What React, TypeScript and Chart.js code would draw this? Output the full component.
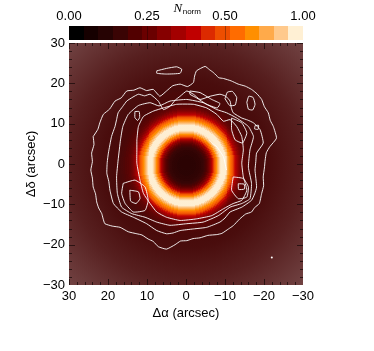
import React, { useEffect, useRef } from 'react';
import { Chart, registerables } from 'chart.js';
Chart.register(...registerables);

// ---- colour bar ----
const cbColors = ['#000000', '#160000', '#260303', '#3a0404', '#520000', '#6a0000', '#860000', '#a30000', '#c00000', '#dc2a00', '#ee4e00', '#ff6c00', '#ff8f00', '#ffaa4a', '#ffc98c', '#fff0d4'];
const cbTickLabels = ['0.00', '0.25', '0.50', '1.00'];
const cbTickValues = [0, 0.25, 0.5, 1.0];
const cbTickFrac = [0, 1 / 3, 2 / 3, 1];

// ---- axes ----
const axisTicks = [-30, -20, -10, 0, 10, 20, 30];

// ---- radial profile of the model image (N_norm vs radius in arcsec) ----
const profileR = [0, 1, 2, 3, 3.5, 4, 4.25, 4.5, 4.75, 5, 5.25, 5.5, 5.75, 6, 6.25, 6.5, 6.75, 7, 7.25, 7.5, 7.75, 8, 8.25, 8.5, 8.75, 9, 9.25, 9.5, 9.75, 10, 10.25, 10.5, 10.75, 11, 11.25, 11.5, 11.75, 12, 12.25, 12.5, 12.75, 13, 13.25, 13.5, 13.75, 14, 14.25, 14.5, 14.75, 15, 15.5, 16, 16.5, 17, 20, 25, 30, 43];
const profileV = [0.13, 0.13, 0.13, 0.135, 0.14, 0.15, 0.155, 0.165, 0.18, 0.195, 0.215, 0.24, 0.27, 0.30, 0.335, 0.375, 0.42, 0.465, 0.53, 0.595, 0.68, 0.76, 0.83, 0.895, 0.94, 0.97, 0.99, 1.0, 0.985, 0.95, 0.9, 0.84, 0.78, 0.72, 0.66, 0.6, 0.55, 0.5, 0.46, 0.42, 0.39, 0.36, 0.335, 0.31, 0.29, 0.27, 0.255, 0.24, 0.23, 0.22, 0.21, 0.2, 0.192, 0.185, 0.18, 0.18, 0.18, 0.18];

// ---- contours (x, y in arcsec) ----
const contourOuter: [number, number][] = [[23.8, 6.8], [22.6, 8.6], [22.1, 10.2], [21.2, 12.3], [19.6, 13.6], [18.2, 15.6], [16.6, 16.4], [15.2, 18.1], [13.4, 18.3], [11.8, 18.9], [10.1, 18.2], [8.4, 18.5], [6.7, 16.8], [5.0, 18.1], [3.4, 19.4], [1.5, 19.8], [-0.4, 19.2], [-1.9, 20.2], [-2.2, 21.8], [-2.7, 23.1], [-4.9, 24.2], [-6.0, 23.4], [-7.0, 22.7], [-8.4, 21.4], [-9.6, 21.2], [-11.6, 20.6], [-13.4, 19.8], [-15.2, 19.3], [-16.8, 18.5], [-18.2, 17.4], [-19.4, 16.0], [-20.1, 14.2], [-21.1, 12.7], [-21.6, 10.8], [-22.4, 9.3], [-23.2, 6.4], [-21.5, 4.3], [-20.6, 2.8], [-20.3, 1.0], [-20.1, -1.0], [-19.8, -3.2], [-19.9, -5.4], [-19.4, -7.3], [-18.8, -9.8], [-17.6, -10.8], [-16.8, -11.9], [-15.3, -12.4], [-13.8, -13.6], [-12.1, -15.3], [-10.9, -16.1], [-9.2, -17.2], [-7.9, -17.5], [-5.6, -17.7], [-3.6, -18.3], [-1.8, -18.5], [-0.2, -19.0], [1.4, -19.1], [2.8, -20.0], [5.0, -21.1], [7.1, -20.5], [8.4, -19.2], [9.7, -18.6], [11.3, -17.6], [12.6, -17.3], [14.8, -16.8], [16.9, -15.7], [18.9, -15.4], [20.8, -14.8], [21.3, -13.4], [21.6, -12.3], [22.4, -10.9], [22.9, -9.4], [23.2, -7.4], [23.8, -5.7], [24.0, -3.5], [24.4, -1.5], [24.0, 0.6], [24.2, 2.7], [23.6, 4.8], [23.8, 6.8]];
const contourSecond: [number, number][] = [[18.2, 9.3], [17.8, 11.0], [17.4, 12.7], [16.2, 14.3], [15.2, 15.6], [13.6, 16.6], [12.2, 17.3], [10.6, 16.9], [9.2, 17.3], [7.1, 15.6], [5.8, 13.5], [4.1, 14.3], [2.7, 15.9], [1.5, 16.8], [-0.2, 18.1], [-1.9, 17.3], [-3.6, 16.0], [-6.2, 16.8], [-8.7, 17.3], [-10.2, 16.8], [-11.3, 15.6], [-11.6, 14.0], [-12.1, 12.7], [-14.3, 11.4], [-15.8, 10.9], [-17.3, 10.2], [-19.0, 8.5], [-19.8, 5.2], [-18.1, 2.7], [-17.9, 0.6], [-17.7, -1.5], [-18.1, -5.7], [-17.6, -7.4], [-16.8, -9.0], [-14.3, -10.7], [-11.3, -11.9], [-10.0, -13.4], [-8.7, -14.4], [-5.3, -15.7], [-1.9, -16.1], [1.5, -16.5], [3.3, -17.1], [5.0, -17.3], [7.5, -16.5], [10.1, -14.8], [13.5, -13.2], [16.5, -11.9], [18.6, -9.8], [19.5, -6.5], [19.8, -4.3], [20.3, -2.3], [20.2, 0.4], [19.9, 2.7], [19.1, 6.8], [18.2, 9.3]];
const contourThird: [number, number][] = [[16.8, 6.0], [16.2, 9.3], [14.8, 12.3], [12.2, 14.5], [9.2, 15.2], [6.9, 14.4], [4.1, 15.6], [-0.2, 16.0], [-4.4, 15.2], [-7.9, 13.5], [-10.4, 12.7], [-13.0, 11.4], [-16.0, 9.3], [-17.3, 6.8], [-16.4, 3.5], [-16.0, -0.8], [-16.8, -4.8], [-16.4, -8.6], [-14.3, -9.8], [-11.3, -10.7], [-8.3, -12.8], [-4.4, -14.4], [-0.2, -14.8], [4.1, -15.2], [7.5, -14.4], [10.5, -13.2], [13.9, -12.3], [16.5, -10.7], [17.6, -7.3], [17.8, -3.2], [17.4, 1.0], [16.8, 6.0]];
const contourInner: [number, number][] = [[12.6, 6.0], [12.2, 9.3], [10.9, 11.8], [8.4, 13.1], [5.8, 13.9], [2.4, 14.8], [-1.9, 14.8], [-5.3, 13.9], [-7.9, 12.3], [-9.6, 10.6], [-11.3, 11.0], [-13.0, 9.3], [-14.3, 6.8], [-14.7, 3.5], [-14.3, 0.2], [-14.7, -3.2], [-15.6, -6.5], [-14.3, -9.0], [-12.1, -9.8], [-9.6, -11.1], [-6.6, -12.8], [-2.7, -13.6], [1.5, -14.0], [5.0, -13.2], [7.5, -11.9], [9.2, -9.8], [10.9, -7.3], [11.8, -4.0], [12.6, 0.2], [12.6, 3.5], [12.6, 6.0]];
const contourNotch: [number, number][] = [[-5.8, 6.0], [-6.6, 5.2], [-7.9, 4.3], [-9.6, 1.8], [-10.0, 0.2], [-10.4, -1.5]];
const loopTop: [number, number][] = [[7.5, 23.1], [5.0, 23.7], [2.4, 24.1], [1.1, 23.5], [1.5, 22.5], [5.0, 22.3], [7.5, 22.5], [7.5, 23.1]];
const loopTopMid: [number, number][] = [[-1.0, 18.1], [-3.6, 17.7], [-6.6, 16.0], [-8.7, 15.0], [-8.0, 13.9], [-5.3, 14.8], [-2.7, 16.4], [-1.0, 17.3], [-1.0, 18.1]];
const loopTopRight: [number, number][] = [[-10.0, 16.2], [-10.6, 17.8], [-11.9, 18.0], [-13.0, 16.5], [-12.6, 14.6], [-11.2, 14.5], [-10.0, 16.2]];
const loopFarRight: [number, number][] = [[-15.6, 15.3], [-16.1, 16.8], [-17.2, 16.5], [-17.7, 14.8], [-17.1, 13.4], [-16.0, 13.6], [-15.6, 15.3]];
const loopLeftSmall: [number, number][] = [[13.1, 13.0], [12.0, 13.0], [11.9, 11.5], [12.4, 10.8], [13.1, 11.5], [13.1, 13.0]];
const loopLeftLow: [number, number][] = [[16.1, -4.8], [13.1, -4.0], [10.5, -5.7], [9.7, -9.0], [10.5, -11.5], [13.5, -11.9], [15.6, -9.8], [16.5, -7.3], [16.1, -4.8]];
const loopLeftLowIn: [number, number][] = [[14.4, -6.5], [12.2, -6.9], [11.8, -8.6], [12.8, -9.8], [14.2, -9.2], [14.4, -6.5]];
const loopRightUp: [number, number][] = [[-11.7, 11.4], [-14.3, 10.2], [-15.6, 7.7], [-14.5, 5.2], [-12.6, 6.0], [-11.7, 8.5], [-11.7, 11.4]];
const loopRightLow: [number, number][] = [[-12.1, -3.2], [-14.7, -3.6], [-16.0, -5.7], [-15.6, -8.2], [-13.4, -8.6], [-11.7, -6.5], [-12.1, -3.2]];
const loopRightLowIn: [number, number][] = [[-13.4, -4.9], [-14.9, -5.0], [-15.0, -6.2], [-13.5, -6.3], [-13.4, -4.9]];
const loopTiny: [number, number][] = [[-17.7, 9.5], [-18.6, 9.6], [-18.5, 8.6], [-17.6, 8.7], [-17.7, 9.5]];
const contours = [contourOuter, contourSecond, contourThird, contourInner, contourNotch, loopTop, loopTopMid, loopTopRight, loopFarRight, loopLeftSmall, loopLeftLow, loopLeftLowIn, loopRightUp, loopRightLow, loopRightLowIn, loopTiny];
const markerPoint: [number, number][] = [[-22.0, -23.2]];

const FONT = "'Liberation Sans', Arial, Helvetica, sans-serif";

function hexToRgb(h: string) {
  return [parseInt(h.slice(1, 3), 16), parseInt(h.slice(3, 5), 16), parseInt(h.slice(5, 7), 16)];
}
const cbRgb = cbColors.map(hexToRgb);

function valueToFrac(v: number) {
  for (let i = 1; i < cbTickValues.length; i++) {
    if (v <= cbTickValues[i]) {
      const t = (v - cbTickValues[i - 1]) / (cbTickValues[i] - cbTickValues[i - 1]);
      return cbTickFrac[i - 1] + t * (cbTickFrac[i] - cbTickFrac[i - 1]);
    }
  }
  return 1;
}
function colorFor(v: number) {
  const f = Math.max(0, Math.min(1, valueToFrac(v)));
  let p = f * cbRgb.length - 0.5;
  p = Math.max(0, Math.min(cbRgb.length - 1, p));
  const i = Math.floor(p);
  const j = Math.min(cbRgb.length - 1, i + 1);
  const t = p - i;
  const c = cbRgb[i].map((a, k) => Math.round(a + (cbRgb[j][k] - a) * t));
  return `rgb(${c[0]},${c[1]},${c[2]})`;
}
function profileAt(r: number) {
  let best = 0;
  let bd = Infinity;
  for (let i = 0; i < profileR.length; i++) {
    const d = Math.abs(profileR[i] - r);
    if (d < bd) { bd = d; best = i; }
  }
  return profileV[best];
}

const CELL = 0.25;

const heatPlugin = {
  id: 'heat',
  beforeDatasetsDraw(chart: any) {
    const { ctx, chartArea: a, scales } = chart;
    const xs = scales.x, ys = scales.y;
    ctx.save();
    ctx.beginPath();
    ctx.rect(a.left, a.top, a.right - a.left, a.bottom - a.top);
    ctx.clip();
    const n = Math.round(60 / CELL);
    for (let i = 0; i < n; i++) {
      const cx = -30 + (i + 0.5) * CELL;
      const px0 = xs.getPixelForValue(cx - CELL / 2), px1 = xs.getPixelForValue(cx + CELL / 2);
      const left = Math.floor(Math.min(px0, px1));
      const w = Math.ceil(Math.abs(px1 - px0)) + 1;
      for (let j = 0; j < n; j++) {
        const cy = -30 + (j + 0.5) * CELL;
        const py0 = ys.getPixelForValue(cy - CELL / 2), py1 = ys.getPixelForValue(cy + CELL / 2);
        const top = Math.floor(Math.min(py0, py1));
        const h = Math.ceil(Math.abs(py1 - py0)) + 1;
        ctx.fillStyle = colorFor(profileAt(Math.hypot(cx, cy)));
        ctx.fillRect(left, top, w, h);
      }
    }
    // haze toward the corners
    const ox = xs.getPixelForValue(0), oy = ys.getPixelForValue(0);
    const R = Math.hypot(a.right - ox, a.bottom - oy);
    const g = ctx.createRadialGradient(ox, oy, 0, ox, oy, R);
    g.addColorStop(0, 'rgba(160,130,130,0)');
    g.addColorStop(0.3, 'rgba(160,130,130,0.02)');
    g.addColorStop(0.5, 'rgba(160,130,130,0.08)');
    g.addColorStop(0.7, 'rgba(160,130,130,0.22)');
    g.addColorStop(1, 'rgba(160,130,130,0.5)');
    ctx.fillStyle = g;
    ctx.fillRect(a.left, a.top, a.right - a.left, a.bottom - a.top);
    // inward ticks
    ctx.strokeStyle = 'rgba(25,10,10,0.75)';
    ctx.lineWidth = 1;
    ctx.beginPath();
    for (let v = -30; v <= 30; v += 2) {
      const major = v % 10 === 0;
      const len = major ? 6 : 3;
      const px = Math.round(xs.getPixelForValue(v)) + 0.5;
      ctx.moveTo(px, a.bottom); ctx.lineTo(px, a.bottom - len);
      ctx.moveTo(px, a.top); ctx.lineTo(px, a.top + len);
      const py = Math.round(ys.getPixelForValue(v)) + 0.5;
      ctx.moveTo(a.left, py); ctx.lineTo(a.left + len, py);
      ctx.moveTo(a.right, py); ctx.lineTo(a.right - len, py);
    }
    ctx.stroke();
    ctx.restore();
  },
};

const colorbarPlugin = {
  id: 'colorbar',
  afterDraw(chart: any) {
    const { ctx, chartArea: a } = chart;
    const x0 = a.left, x1 = a.right;
    const top = a.top - 17, bottom = a.top - 3;
    const bw = (x1 - x0) / cbColors.length;
    ctx.save();
    cbColors.forEach((c, i) => {
      ctx.fillStyle = c;
      const l = Math.round(x0 + i * bw);
      const r = Math.round(x0 + (i + 1) * bw);
      ctx.fillRect(l, top, r - l, bottom - top);
    });
    ctx.strokeStyle = 'rgba(0,0,0,0.3)';
    ctx.beginPath();
    cbTickFrac.forEach((f) => {
      const px = Math.round(x0 + f * (x1 - x0)) + 0.5;
      if (f > 0 && f < 1) { ctx.moveTo(px, top); ctx.lineTo(px, bottom); }
    });
    ctx.stroke();
    ctx.fillStyle = '#000';
    ctx.font = `13px ${FONT}`;
    ctx.textAlign = 'center';
    ctx.textBaseline = 'middle';
    cbTickLabels.forEach((t, i) => {
      ctx.fillText(t, x0 + cbTickFrac[i] * (x1 - x0), top - 10);
    });
    // title N_norm
    const cx = (x0 + x1) / 2;
    ctx.textAlign = 'left';
    ctx.textBaseline = 'alphabetic';
    const nFont = `italic 13px 'Liberation Serif', 'Times New Roman', serif`;
    const sFont = `8px ${FONT}`;
    ctx.font = nFont;
    const nW = ctx.measureText('N').width;
    ctx.font = sFont;
    const sW = ctx.measureText('norm').width;
    const sx = cx - (nW + sW) / 2 + 1;
    ctx.font = nFont;
    ctx.fillText('N', sx, 12);
    ctx.font = sFont;
    ctx.fillText('norm', sx + nW + 0.5, 14);
    ctx.restore();
  },
};

function fmt(v: number) {
  return v < 0 ? '\u2212' + Math.abs(v) : String(v);
}

export default function App() {
  const ref = useRef<HTMLCanvasElement | null>(null);
  useEffect(() => {
    if (!ref.current) return;
    const datasets: any[] = contours.map((c) => ({
      data: c.map(([x, y]) => ({ x, y })),
      showLine: true,
      borderColor: 'rgba(255,255,255,0.9)',
      borderWidth: 1,
      pointRadius: 0,
      tension: 0.15,
      fill: false,
    }));
    datasets.push({
      data: markerPoint.map(([x, y]) => ({ x, y })),
      pointRadius: 1,
      pointBackgroundColor: '#fff',
      pointBorderWidth: 0,
      showLine: false,
    });
    const chart = new Chart(ref.current, {
      type: 'scatter',
      data: { datasets },
      options: {
        animation: false,
        responsive: false,
        maintainAspectRatio: false,
        layout: { padding: { left: 0, right: 71, top: 43, bottom: 24 } },
        plugins: { legend: { display: false }, tooltip: { enabled: false } },
        events: [],
        scales: {
          x: {
            type: 'linear',
            min: -30,
            max: 30,
            reverse: true,
            afterFit: (s: any) => { s.height = 42; },
            afterBuildTicks: (s: any) => { s.ticks = axisTicks.map((v) => ({ value: v })); },
            grid: { display: false, drawTicks: false },
            border: { display: false },
            ticks: { padding: 4, color: '#000', font: { family: FONT, size: 13 }, maxRotation: 0, callback: (v: any) => fmt(Number(v)) },
            title: { display: true, text: '\u0394\u03b1 (arcsec)', color: '#000', font: { family: FONT, size: 13 }, padding: { top: 0, bottom: 6 } },
          },
          y: {
            type: 'linear',
            min: -30,
            max: 30,
            afterFit: (s: any) => { s.width = 69; },
            afterBuildTicks: (s: any) => { s.ticks = axisTicks.map((v) => ({ value: v })); },
            grid: { display: false, drawTicks: false },
            border: { display: false },
            ticks: { padding: 4, color: '#000', font: { family: FONT, size: 13 }, callback: (v: any) => fmt(Number(v)) },
            title: { display: true, text: '\u0394\u03b4 (arcsec)', color: '#000', font: { family: FONT, size: 13 }, padding: { top: 24, bottom: 0 } },
          },
        },
      },
      plugins: [heatPlugin, colorbarPlugin],
    } as any);
    return () => chart.destroy();
  }, []);
  return (
    <div style={{ position: 'absolute', left: 0, top: 0, width: 374, height: 351, background: '#fff' }}>
      <canvas ref={ref} width={374} height={351} style={{ display: 'block', width: 374, height: 351 }} />
    </div>
  );
}
